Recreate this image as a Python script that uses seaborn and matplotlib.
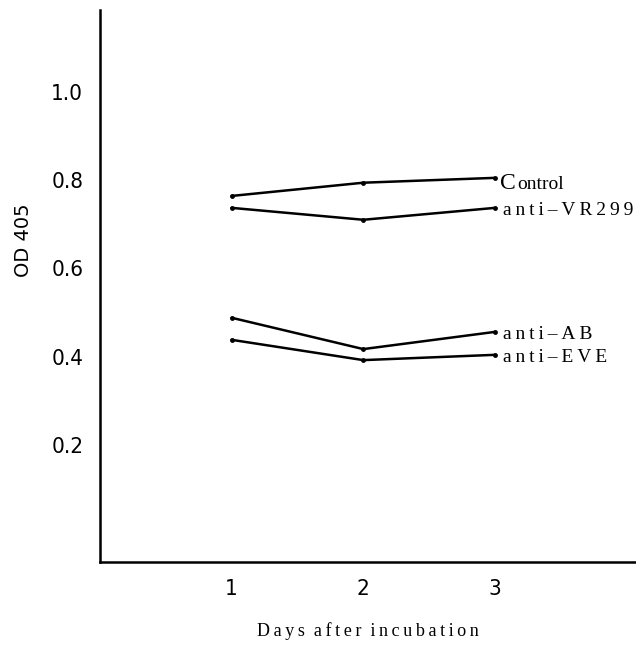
import seaborn as sns
import matplotlib.pyplot as plt
import pandas as pd

days = [1, 2, 3]
control = [0.764, 0.794, 0.805]
anti_vr299 = [0.737, 0.710, 0.737]
anti_ab = [0.488, 0.417, 0.456]
anti_eve = [0.438, 0.392, 0.404]

series = {
    "Control": control,
    "anti\u2013VR299": anti_vr299,
    "anti\u2013AB": anti_ab,
    "anti\u2013EVE": anti_eve,
}

rows = []
for name, vals in series.items():
    for d, v in zip(days, vals):
        rows.append({"day": d, "od": v, "group": name})
df = pd.DataFrame(rows)

sns.set_style("white")
plt.rcParams["font.family"] = ["DejaVu Sans"]
plt.rcParams["font.stretch"] = "condensed"
plt.rcParams["text.color"] = "black"
plt.rcParams["axes.labelcolor"] = "black"
plt.rcParams["xtick.color"] = "black"
plt.rcParams["ytick.color"] = "black"


def spaced(s):
    # letter-spaced look of the scanned labels
    return "\u2009".join(s)


fig = plt.figure(figsize=(6.36, 6.47), dpi=100)
ax = fig.add_axes([0.157, 0.131, 0.843, 0.854])

sns.lineplot(data=df, x="day", y="od", hue="group",
             palette=["black"] * 4, linewidth=1.8, marker="o",
             markersize=3.5, markeredgewidth=0, legend=False, ax=ax)

serif = ["Liberation Serif", "DejaVu Serif"]
for name, vals in series.items():
    if name == "Control":
        base = vals[-1] - 0.025
        ax.text(days[-1] + 0.04, base, "C", fontsize=17,
                family=serif, stretch="normal", va="baseline", ha="left")
        ax.text(days[-1] + 0.17, base, "ontrol", fontsize=14,
                family=serif, stretch="normal", va="baseline", ha="left")
    else:
        ax.text(days[-1] + 0.06, vals[-1] - 0.006, spaced(name), fontsize=14,
                family=serif, stretch="normal", va="center", ha="left",
                clip_on=False)

ax.set_xlim(0, 4.07)
ax.set_ylim(-0.066, 1.186)
ax.set_xticks(days)
ax.set_xticklabels(["1", "2", "3"])
ax.set_yticks([0.2, 0.4, 0.6, 0.8, 1.0])
ax.set_yticklabels(["0.2", "0.4", "0.6", "0.8", "1.0"])
ax.tick_params(axis="both", labelsize=16, length=2, width=1.5,
               direction="out", pad=10)

for side in ["top", "right"]:
    ax.spines[side].set_visible(False)
for side in ["left", "bottom"]:
    ax.spines[side].set_linewidth(1.8)
    ax.spines[side].set_color("black")

ax.set_ylabel("OD 405", fontsize=14, stretch="normal")
ax.yaxis.set_label_coords(-0.125, 0.583)
ax.set_xlabel("  ".join(spaced(w) for w in ["Days", "after", "incubation"]),
              fontsize=13, family=serif, stretch="normal")
ax.xaxis.set_label_coords(0.5, -0.108)

fig.savefig("out.png", dpi=100)
